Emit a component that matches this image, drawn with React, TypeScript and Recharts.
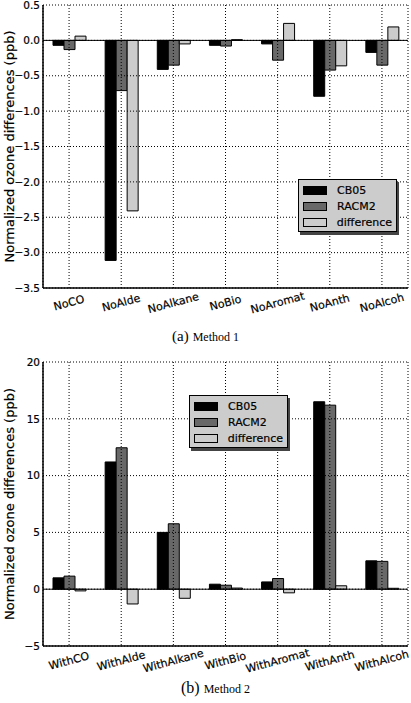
import { BarChart, Bar, XAxis, YAxis, CartesianGrid, ReferenceLine } from 'recharts'

const namesA = ['NoCO', 'NoAlde', 'NoAlkane', 'NoBio', 'NoAromat', 'NoAnth', 'NoAlcoh']
const cb05A = [-0.07, -3.11, -0.41, -0.07, -0.05, -0.79, -0.17]
const racm2A = [-0.13, -0.71, -0.35, -0.08, -0.28, -0.42, -0.35]
const diffA = [0.06, -2.41, -0.05, 0.01, 0.24, -0.36, 0.19]
const ticksA = [0.5, 0, -0.5, -1, -1.5, -2, -2.5, -3, -3.5]

const namesB = ['WithCO', 'WithAlde', 'WithAlkane', 'WithBio', 'WithAromat', 'WithAnth', 'WithAlcoh']
const cb05B = [1.0, 11.2, 5.0, 0.44, 0.64, 16.5, 2.5]
const racm2B = [1.15, 12.45, 5.76, 0.35, 0.94, 16.2, 2.45]
const diffB = [-0.15, -1.3, -0.8, 0.1, -0.32, 0.3, 0.08]
const ticksB = [20, 15, 10, 5, 0, -5]

const FONT = '"DejaVu Sans", sans-serif'
const SERIF = '"Liberation Serif", "Times New Roman", serif'
const YLABEL = 'Normalized ozone differences (ppb)'

const SERIES = [
  { key: 'cb05', name: 'CB05', fill: '#000000' },
  { key: 'racm2', name: 'RACM2', fill: '#686868' },
  { key: 'diff', name: 'difference', fill: '#cccccc' },
]

const rowsA = namesA.map((n, i) => ({ name: n, cb05: cb05A[i], racm2: racm2A[i], diff: diffA[i] }))
const rowsB = namesB.map((n, i) => ({ name: n, cb05: cb05B[i], racm2: racm2B[i], diff: diffB[i] }))

const minus = (s: string) => s.replace('-', '\u2212')

function XTick({ x, y, payload }: any) {
  const cy = y + 15
  return (
    <text
      x={x}
      y={cy}
      transform={`rotate(-15 ${x} ${cy})`}
      textAnchor="middle"
      dominantBaseline="central"
      fontSize={11}
      fontFamily={FONT}
      fill="#000"
      stroke="#000"
      strokeWidth={0.2}
    >
      {payload.value}
    </text>
  )
}

function YLabel({ viewBox }: any) {
  const cx = 9
  const cy = viewBox.y + viewBox.height / 2
  return (
    <text
      x={cx}
      y={cy}
      transform={`rotate(-90 ${cx} ${cy})`}
      textAnchor="middle"
      dominantBaseline="central"
      fontSize={13}
      fontFamily={FONT}
      fill="#000"
      stroke="#000"
      strokeWidth={0.2}
    >
      {YLABEL}
    </text>
  )
}

// legend drawn as an overlay so it doesn't eat plot space
function LegendBox({ left, top }: { left: number; top: number }) {
  return (
    <div
      style={{
        position: 'absolute',
        left,
        top,
        background: '#cccccc',
        border: '1px solid #000',
        boxShadow: '2px 3px 0 #444',
        boxSizing: 'border-box',
        width: 99,
        height: 53,
        padding: '2px 4px',
        fontFamily: FONT,
        fontSize: 11,
        color: '#000',
        WebkitTextStroke: '0.2px #000',
      }}
    >
      {SERIES.map((s) => (
        <div key={s.key} style={{ display: 'flex', alignItems: 'center', height: 16 }}>
          <span
            style={{
              display: 'inline-block',
              width: 24,
              height: 9,
              background: s.fill,
              border: '1px solid #000',
              boxSizing: 'border-box',
              marginRight: 10,
            }}
          />
          <span>{s.name}</span>
        </div>
      ))}
    </div>
  )
}

function Panel({ rows, ticks, height, top, plotH, fmt }: {
  rows: any[]
  ticks: number[]
  height: number
  top: number
  plotH: number
  fmt: (v: number) => string
}) {
  const xh = height - top - plotH
  const domain = [ticks[ticks.length - 1], ticks[0]]
  return (
    <BarChart
      width={411}
      height={height}
      data={rows}
      margin={{ top, right: 3, left: 0, bottom: 0 }}
      barCategoryGap={10}
      barGap={0}
    >
      {SERIES.map((s) => (
        <Bar
          key={s.key}
          dataKey={s.key}
          name={s.name}
          fill={s.fill}
          stroke="#000"
          strokeWidth={1}
          isAnimationActive={false}
        />
      ))}
      <CartesianGrid stroke="#000" strokeDasharray="1 2" {...({ zIndex: 500 } as any)} />
      <ReferenceLine y={0} stroke="#000" strokeWidth={1} />
      <XAxis
        dataKey="name"
        height={xh}
        interval={0}
        tickSize={0}
        tickMargin={0}
        tick={<XTick />}
        axisLine={{ stroke: '#000', strokeWidth: 1.5 }}
      />
      <XAxis xAxisId="top" dataKey="name" orientation="top" height={0} tick={false} tickLine={false} axisLine={{ stroke: '#000', strokeWidth: 1.5 }} />
      <YAxis
        type="number"
        domain={domain}
        ticks={ticks}
        interval={0}
        width={43}
        tickSize={0}
        tickMargin={3}
        tickFormatter={fmt}
        tick={{ fill: '#000', fontSize: 10.5, fontFamily: FONT, stroke: '#000', strokeWidth: 0.2 }}
        axisLine={{ stroke: '#000', strokeWidth: 1.5 }}
        label={<YLabel />}
      />
      <YAxis yAxisId="right" orientation="right" domain={domain} width={0} tick={false} tickLine={false} axisLine={{ stroke: '#000', strokeWidth: 1.5 }} />
    </BarChart>
  )
}

export default function App() {
  return (
    <div style={{ position: 'absolute', left: 0, top: 0, width: 411, height: 703, background: '#fff' }}>
      <div style={{ position: 'absolute', left: 0, top: 0 }}>
        <Panel rows={rowsA} ticks={ticksA} height={330} top={5} plotH={283} fmt={(v) => minus(v.toFixed(1))} />
      </div>
      <div style={{ position: 'absolute', left: 0, top: 355 }}>
        <Panel rows={rowsB} ticks={ticksB} height={348} top={7} plotH={284} fmt={(v) => minus(String(v))} />
      </div>
      <LegendBox left={298} top={179} />
      <LegendBox left={189} top={395} />
      <div style={{ position: 'absolute', left: 0, width: 411, top: 327, textAlign: 'center', fontFamily: SERIF, color: '#000' }}>
        <span style={{ fontSize: 15 }}>(a)</span> <span style={{ fontSize: 12 }}>Method 1</span>
      </div>
      <div style={{ position: 'absolute', left: 0, width: 411, top: 679, textAlign: 'center', fontFamily: SERIF, color: '#000', paddingLeft: 20, boxSizing: 'border-box' }}>
        <span style={{ fontSize: 16 }}>(b)</span> <span style={{ fontSize: 12 }}>Method 2</span>
      </div>
    </div>
  )
}
